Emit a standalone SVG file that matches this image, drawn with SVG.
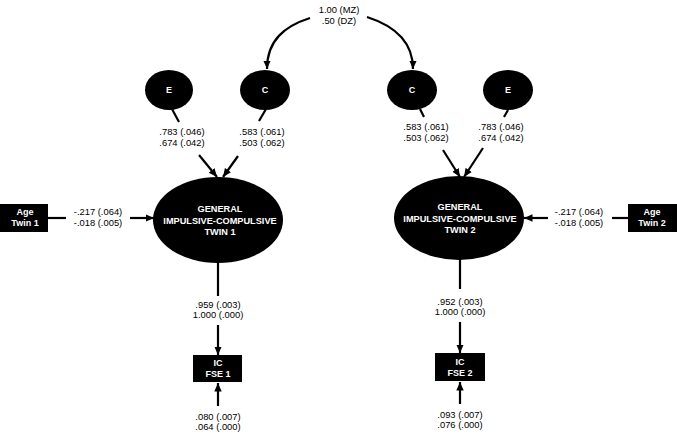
<svg xmlns="http://www.w3.org/2000/svg" width="677" height="439" viewBox="0 0 677 439">
<style>
.lbl{font-family:"Liberation Sans",Arial,sans-serif;font-size:9.4px;fill:#000;text-anchor:middle}
.nl{font-family:"Liberation Sans",Arial,sans-serif;font-size:9px;font-weight:bold;fill:#fff;text-anchor:middle}
.big{font-family:"Liberation Sans",Arial,sans-serif;font-size:9.2px;font-weight:bold;fill:#fff;text-anchor:middle}
.ln{stroke:#000;stroke-width:2.2;fill:none}
.ar{stroke:#000;stroke-width:2.2;fill:none;marker-end:url(#ah)}
</style>
<defs>
<marker id="ah" markerUnits="userSpaceOnUse" markerWidth="10" markerHeight="9" refX="8.5" refY="4.5" orient="auto">
<path d="M0,0.8 L8.5,4.5 L0,8.2 z" fill="#000"/>
</marker>
</defs>
<rect width="677" height="439" fill="#fff"/>
<g id="connectors">
<path class="ar" d="M310,18 C285,26 267,40 267,69"/>
<path class="ar" d="M367,17 C392,25 413,40 413,69"/>
<line class="ln" x1="172" y1="109" x2="179" y2="122"/>
<line class="ar" x1="199" y1="155" x2="217" y2="177"/>
<line class="ln" x1="266" y1="109" x2="259" y2="121"/>
<line class="ar" x1="238" y1="156" x2="223" y2="177"/>
<line class="ln" x1="420" y1="109" x2="424" y2="117"/>
<line class="ar" x1="443" y1="150" x2="460" y2="177"/>
<line class="ln" x1="508" y1="110" x2="504" y2="117"/>
<line class="ar" x1="483" y1="148" x2="464" y2="177"/>
<line class="ln" x1="48" y1="218" x2="66" y2="218"/>
<line class="ar" x1="130" y1="218" x2="154" y2="218"/>
<line class="ln" x1="628" y1="218" x2="612" y2="218"/>
<line class="ar" x1="548" y1="218" x2="524" y2="218"/>
<line class="ln" x1="218" y1="262" x2="218" y2="296"/>
<line class="ar" x1="218" y1="325" x2="218" y2="355"/>
<line class="ar" x1="218" y1="406" x2="218" y2="383"/>
<line class="ln" x1="460" y1="259" x2="460" y2="289"/>
<line class="ar" x1="460" y1="322" x2="460" y2="353"/>
<line class="ar" x1="460" y1="404" x2="460" y2="382"/>
</g>
<g id="labels">
<text class="lbl" x="339" y="13">1.00 (MZ)</text>
<text class="lbl" x="339" y="24">.50 (DZ)</text>
<text class="lbl" x="182" y="135">.783 (.046)</text>
<text class="lbl" x="182" y="146">.674 (.042)</text>
<text class="lbl" x="262" y="135">.583 (.061)</text>
<text class="lbl" x="262" y="146">.503 (.062)</text>
<text class="lbl" x="426" y="130">.583 (.061)</text>
<text class="lbl" x="426" y="141">.503 (.062)</text>
<text class="lbl" x="501" y="130">.783 (.046)</text>
<text class="lbl" x="501" y="141">.674 (.042)</text>
<text class="lbl" x="98" y="215">-.217 (.064)</text>
<text class="lbl" x="98" y="226">-.018 (.005)</text>
<text class="lbl" x="579" y="215">-.217 (.064)</text>
<text class="lbl" x="579" y="226">-.018 (.005)</text>
<text class="lbl" x="218" y="308">.959 (.003)</text>
<text class="lbl" x="218" y="318">1.000 (.000)</text>
<text class="lbl" x="218" y="420">.080 (.007)</text>
<text class="lbl" x="218" y="430">.064 (.000)</text>
<text class="lbl" x="460" y="305">.952 (.003)</text>
<text class="lbl" x="460" y="315">1.000 (.000)</text>
<text class="lbl" x="460" y="418">.093 (.007)</text>
<text class="lbl" x="460" y="428">.076 (.000)</text>
</g>
<g id="E1"><ellipse cx="169" cy="90" rx="24" ry="20"/><text class="nl" x="169" y="93">E</text></g>
<g id="C1"><ellipse cx="265" cy="90" rx="25" ry="20"/><text class="nl" x="265" y="93">C</text></g>
<g id="C2"><ellipse cx="412" cy="90" rx="25" ry="20"/><text class="nl" x="412" y="93">C</text></g>
<g id="E2"><ellipse cx="508" cy="90" rx="25" ry="20"/><text class="nl" x="508" y="93">E</text></g>
<g id="GIC1"><ellipse cx="218" cy="220" rx="65" ry="43"/>
<text class="big" x="220" y="212">GENERAL</text>
<text class="big" x="220" y="224">IMPULSIVE-COMPULSIVE</text>
<text class="big" x="220" y="235">TWIN 1</text></g>
<g id="GIC2"><ellipse cx="459" cy="218" rx="65" ry="42"/>
<text class="big" x="460" y="210">GENERAL</text>
<text class="big" x="460" y="222">IMPULSIVE-COMPULSIVE</text>
<text class="big" x="460" y="233">TWIN 2</text></g>
<g id="Age1"><rect x="0" y="204" width="48" height="28"/>
<text class="nl" x="25" y="215">Age</text><text class="nl" x="25" y="226">Twin 1</text></g>
<g id="Age2"><rect x="628" y="204" width="49" height="28"/>
<text class="nl" x="652" y="215">Age</text><text class="nl" x="652" y="226">Twin 2</text></g>
<g id="FSE1"><rect x="193" y="355" width="49" height="27"/>
<text class="nl" x="218" y="366">IC</text><text class="nl" x="218" y="377">FSE 1</text></g>
<g id="FSE2"><rect x="435" y="353" width="50" height="28"/>
<text class="nl" x="460" y="365">IC</text><text class="nl" x="460" y="376">FSE 2</text></g>
</svg>
